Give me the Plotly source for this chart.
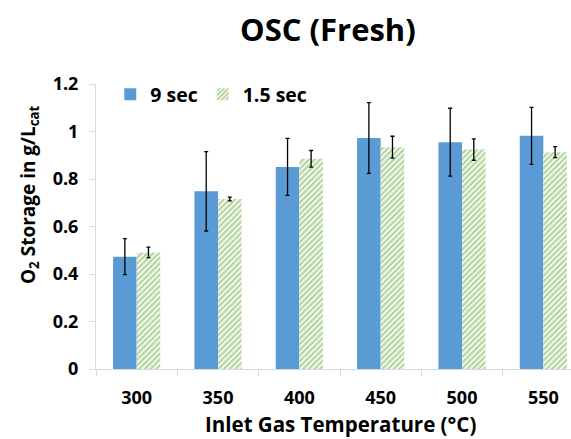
import plotly.graph_objects as go

categories = ["300", "350", "400", "450", "500", "550"]
sec9_values = [0.473, 0.748, 0.851, 0.973, 0.955, 0.982]
sec9_errors = [0.076, 0.167, 0.120, 0.149, 0.143, 0.120]
sec15_values = [0.491, 0.716, 0.885, 0.934, 0.924, 0.913]
sec15_errors = [0.022, 0.008, 0.035, 0.046, 0.045, 0.023]
y_ticks = [0, 0.2, 0.4, 0.6, 0.8, 1, 1.2]
y_ticklabels = ["0", "0.2", "0.4", "0.6", "0.8", "1", "1.2"]

FONT = "Open Sans"
BLUE = "#5B9BD5"
GREEN = "#6AAB3F"

fig = go.Figure()
fig.add_trace(go.Bar(
    x=categories, y=sec9_values, name="9 sec",
    marker=dict(color=BLUE, line=dict(width=0)),
    error_y=dict(type="data", array=sec9_errors, color="black", thickness=1.3, width=2),
))
fig.add_trace(go.Bar(
    x=categories, y=sec15_values, name="1.5 sec",
    marker=dict(color="white", line=dict(width=0),
                pattern=dict(shape="/", fgcolor=GREEN, bgcolor="white", size=4, solidity=0.6)),
    error_y=dict(type="data", array=sec15_errors, color="black", thickness=1.3, width=2),
))

fig.update_layout(
    width=571, height=439,
    margin=dict(l=96, r=0, t=84, b=70),
    paper_bgcolor="white", plot_bgcolor="white",
    barmode="group", bargap=0.42, bargroupgap=0,
    font=dict(family=FONT, color="black"),
    showlegend=True,
    legend=dict(orientation="h", x=0.03, y=(369 - 94.5) / 285, xanchor="left", yanchor="middle",
                font=dict(family=FONT, size=19.5, weight="bold", color="black"),
                bgcolor="rgba(0,0,0,0)", itemwidth=30, traceorder="normal"),
    xaxis=dict(type="category", range=[-0.5, 5.34], showgrid=False,
               showline=True, linecolor="#D9D9D9", linewidth=1,
               ticks="outside", tickson="boundaries", ticklen=6, tickcolor="#D9D9D9",
               tickfont=dict(family=FONT, size=18, weight="bold", color="black"),
               ticklabelstandoff=12, zeroline=False),
    yaxis=dict(range=[0, 1.2], tickvals=y_ticks, ticktext=y_ticklabels, showgrid=False,
               showline=True, linecolor="#D9D9D9", linewidth=1,
               ticks="outside", ticklen=6, tickcolor="#D9D9D9",
               tickfont=dict(family=FONT, size=18, weight="bold", color="black"),
               ticklabelstandoff=7, zeroline=False),
    annotations=[
        dict(text="OSC (Fresh)", xref="paper", yref="paper", x=0.488, y=(369 - 29) / 285,
             xanchor="center", yanchor="middle", showarrow=False,
             font=dict(family=FONT, size=31, weight="bold", color="black")),
        dict(text="O<sub>2</sub> Storage in g/L<sub>cat</sub>", xref="paper", yref="paper",
             x=(29 - 96) / 475, y=(369 - 195) / 285, textangle=-90,
             xanchor="center", yanchor="middle", showarrow=False,
             font=dict(family=FONT, size=19, weight="bold", color="black")),
        dict(text="Inlet Gas Temperature (°C)", xref="paper", yref="paper",
             x=(340 - 96) / 475, y=(369 - 438.5) / 285,
             xanchor="center", yanchor="bottom", showarrow=False, borderpad=0,
             font=dict(family=FONT, size=20.5, weight="bold", color="black")),
    ],
)

fig.write_html("out.html")
